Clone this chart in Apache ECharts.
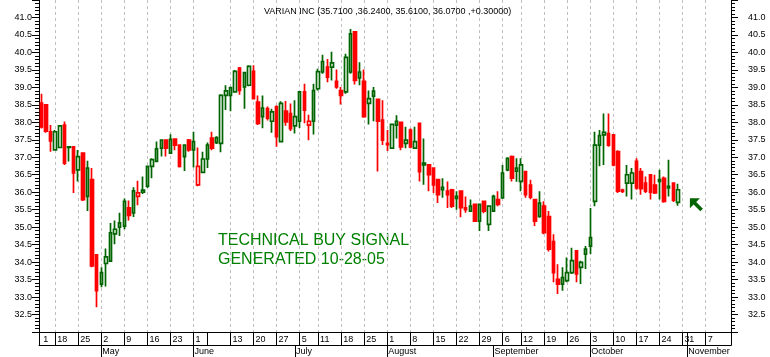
<!DOCTYPE html>
<html><head><meta charset="utf-8">
<script src="https://cdn.jsdelivr.net/npm/echarts@6.0.0/dist/echarts.min.js"></script>
<style>html,body{margin:0;padding:0;background:#fff}#c{width:770px;height:357px}</style>
</head><body><div id="c"></div>
<script>
// Trading days shown on the axis (2005)
const aprDays = [13,14,15,18,19,20,21,22,25,26,27,28,29];
const mayDays = [2,3,4,5,6,9,10,11,12,13,16,17,18,19,20,23,24,25,26,27];
const junDays = [1,2,3,6,7,8,9,10,13,14,15,16,17,20,21,22,23,24,27,28,29,30];
const julDays = [1,5,6,7,8,11,12,13,14,15,18,19,20,21,22,25,26,27,28,29];
const augDays = [1,2,3,4,5,8,9,10,11,12,15,16,17,18,19,22,23,24,25,26,29,30,31];
const sepDays = [1,2,6,7,8,9,12,13,14,15,16,19,20,21,22,23,26,27,28,29,30];
const octDays = [3,4,5,6,7,10,11,12,13,14,17,18,19,20,21,24,25,26,27,28,31];
const novDays = [1,2,3,4,7,8,9,10,11,14];

// OHLC values (Apr 13 .. Oct 28)
const opens = [38.55,38.50,37.73,37.21,37.28,37.92,37.28,37.30,36.64,37.12,
35.88,36.36,34.21,33.37,33.96,34.03,34.81,35.00,35.03,35.55,
35.41,35.88,36.00,36.17,36.74,36.88,37.26,37.49,37.12,37.52,
37.35,37.02,37.49,37.21,36.21,36.57,36.95,37.55,37.42,37.40,
38.77,38.77,38.87,39.55,39.01,39.06,39.46,38.58,38.16,38.39,
38.03,38.44,37.45,38.32,38.25,37.90,38.03,38.87,37.92,38.03,
38.96,39.44,39.58,39.58,39.17,38.91,38.87,39.44,40.59,39.27,
39.17,38.54,38.75,38.66,38.06,37.40,37.26,37.92,38.00,37.40,
37.78,37.26,37.97,36.78,36.78,36.69,36.36,36.07,36.03,36.07,
35.82,36.03,35.55,35.46,35.65,35.17,35.74,35.08,35.46,35.79,
35.84,36.64,37.02,36.60,36.31,36.59,36.20,35.79,35.31,35.60,
35.30,34.59,33.51,33.37,33.47,33.70,34.32,33.85,34.23,34.46,
35.74,37.35,37.64,37.68,37.64,37.16,36.06,36.26,36.26,36.88,
36.59,36.26,36.50,36.20,36.31,36.40,36.12,36.26,35.71];
const closes = [37.87,37.75,37.47,37.73,37.90,36.83,37.30,36.55,37.02,35.79,
36.69,33.89,33.18,33.70,34.15,34.84,34.94,35.12,35.74,35.34,
36.04,35.98,36.06,36.74,36.93,37.24,37.49,37.26,37.51,37.35,
36.74,37.35,37.21,37.45,36.74,36.95,37.35,37.26,37.56,38.77,
38.90,38.99,39.46,38.91,39.42,39.60,38.68,37.97,38.41,38.12,
38.30,37.59,38.54,38.01,37.82,38.16,38.87,38.35,38.03,38.91,
39.45,39.74,39.29,39.70,39.01,38.77,39.86,40.53,39.20,39.44,
38.16,38.68,38.89,38.03,37.49,37.36,37.94,38.03,37.30,37.49,
37.30,37.45,36.59,36.83,36.50,36.21,35.93,36.14,35.93,35.60,
35.88,35.56,35.50,35.60,35.17,35.65,35.46,35.60,35.88,35.65,
36.55,36.97,36.40,36.69,36.78,35.93,35.86,35.17,35.69,34.84,
34.37,33.70,33.37,33.56,33.70,34.04,33.66,33.99,34.37,34.70,
37.35,37.62,37.71,37.35,36.78,36.03,36.02,36.50,36.55,36.12,
36.10,36.03,36.00,35.98,36.36,35.74,36.17,35.77,36.07];
const lows = [37.82,37.70,37.16,37.19,37.27,36.78,36.88,35.98,36.31,35.75,
35.46,33.85,32.71,33.28,33.30,34.00,34.51,34.75,34.94,35.19,
35.29,35.63,35.95,36.12,36.40,36.86,37.02,37.02,37.10,37.20,
36.71,36.61,37.16,36.71,36.17,36.54,36.69,37.20,37.38,37.14,
38.35,38.32,38.85,38.79,38.39,39.03,38.66,37.92,37.83,38.05,
37.70,37.30,37.43,37.90,37.75,37.68,37.84,37.97,37.49,37.65,
38.91,39.39,39.15,39.20,38.96,38.51,38.82,39.39,39.08,39.06,
38.13,37.94,38.03,36.59,37.35,37.18,37.24,37.54,37.20,37.26,
37.26,37.24,36.31,36.21,36.03,35.98,35.69,35.84,35.55,35.55,
35.50,35.28,35.41,35.44,35.15,34.89,35.40,34.89,35.44,35.60,
35.82,36.60,36.31,36.30,36.03,35.84,35.80,35.03,35.27,34.80,
34.30,33.42,33.09,33.18,33.42,33.66,33.42,33.37,33.80,34.23,
35.60,36.74,36.78,37.30,36.74,35.98,35.98,35.88,35.79,36.07,
35.93,35.98,35.79,35.95,35.79,35.70,35.88,35.72,35.61];
const highs = [38.82,38.52,37.92,37.78,37.92,38.02,37.32,37.31,37.21,37.13,
36.90,36.69,34.22,33.85,34.39,35.12,35.19,35.41,35.82,35.76,
36.14,36.33,36.45,36.75,36.97,37.45,37.50,37.51,37.66,37.53,
37.36,37.37,37.52,37.73,37.28,37.16,37.42,37.73,37.60,38.80,
39.06,39.02,39.50,39.58,39.44,39.63,39.63,38.77,38.77,38.45,
38.39,38.49,38.60,38.61,38.54,38.63,38.89,39.10,38.22,39.10,
39.53,39.93,39.81,40.02,39.51,39.01,39.96,40.67,40.60,39.72,
39.51,38.91,39.01,38.68,38.63,37.78,37.95,38.20,38.02,37.87,
37.82,37.87,37.98,37.54,36.80,36.70,36.38,36.40,36.31,36.10,
36.03,36.05,35.88,35.79,35.67,35.67,35.76,35.62,35.93,36.03,
36.78,37.00,37.05,36.97,36.97,36.60,36.36,35.80,36.03,35.74,
35.46,34.80,33.94,33.85,34.13,34.41,34.33,34.04,34.46,35.55,
37.73,37.78,38.25,38.25,37.66,37.20,36.10,36.78,36.69,36.97,
36.69,36.45,36.50,36.50,36.64,36.45,36.93,36.28,36.24];

// Tick labels
const dayLabels = [['Apr 13','1'],['Apr 18','18'],['Apr 25','25'],['May 2','2'],['May 9','9'],['May 16','16'],['May 23','23'],
 ['Jun 1','1'],['Jun 13','13'],['Jun 20','20'],['Jun 27','27'],['Jul 5','5'],['Jul 11','11'],['Jul 18','18'],['Jul 25','25'],
 ['Aug 1','1'],['Aug 8','8'],['Aug 15','15'],['Aug 22','22'],['Aug 29','29'],['Sep 6','6'],['Sep 12','12'],['Sep 19','19'],
 ['Sep 26','26'],['Oct 3','3'],['Oct 10','10'],['Oct 17','17'],['Oct 24','24'],['Oct 31','3'],['Nov 1','1'],['Nov 7','7']];
const daySeparators = ['Apr 18','Apr 25','May 2','May 9','May 16','May 23','Jun 1','Jun 6','Jun 13','Jun 20','Jun 27','Jul 5',
 'Jul 11','Jul 18','Jul 25','Aug 1','Aug 8','Aug 15','Aug 22','Aug 29','Sep 6','Sep 12','Sep 19','Sep 26','Oct 3','Oct 10',
 'Oct 17','Oct 24','Oct 31','Nov 1','Nov 7'];
const gridDates = ['Apr 18','Apr 25','May 2','May 9','May 16','May 23','Jun 1','Jun 13','Jun 20','Jun 27','Jul 5','Jul 11',
 'Jul 18','Jul 25','Aug 1','Aug 8','Aug 15','Aug 22','Aug 29','Sep 6','Sep 12','Sep 19','Sep 26','Oct 3','Oct 10','Oct 17',
 'Oct 24','Oct 31','Nov 7'];
const monthLabels = [['May 2','May'],['Jun 1','June'],['Jul 1','July'],['Aug 1','August'],['Sep 1','September'],
 ['Oct 3','October'],['Nov 1','November']];
const titleText = 'VARIAN INC (35.7100 ,36.2400, 35.6100, 36.0700 ,+0.30000)';

const categories = [].concat(
  aprDays.map(d => 'Apr ' + d), mayDays.map(d => 'May ' + d), junDays.map(d => 'Jun ' + d),
  julDays.map(d => 'Jul ' + d), augDays.map(d => 'Aug ' + d), sepDays.map(d => 'Sep ' + d),
  octDays.map(d => 'Oct ' + d), novDays.map(d => 'Nov ' + d));
const idx = name => categories.indexOf(name);
const dayMap = new Map(dayLabels.map(p => [idx(p[0]), p[1]]));
const sepSet = new Set(daySeparators.map(idx));
const gridSet = new Set(gridDates.map(idx));
const monthMap = new Map(monthLabels.map(p => [idx(p[0]), p[1]]));

const GREEN = '#006400', RED = '#ff0000';
const items = opens.map((o, i) => {
  const c = closes[i];
  const prev = i > 0 ? closes[i - 1] : o;
  const stroke = c >= prev ? GREEN : RED;
  const fill = c > o ? '#ffffff' : stroke;
  return { value: [o, c, lows[i], highs[i]],
    itemStyle: { color: fill, color0: fill, borderColor: stroke, borderColor0: stroke, borderColorDoji: stroke } };
});

const FONT = '"Liberation Sans", Arial, sans-serif';
const yLabel = v => (v >= 32.49 && v <= 41.01) ? v.toFixed(1) : '';
function yAxisCfg(pos, margin) {
  return { type: 'value', position: pos, min: 32, max: 41.5, interval: 0.5,
    axisLine: { show: true, lineStyle: { color: '#000', width: 1 } },
    axisTick: { show: true, length: 7, lineStyle: { color: '#000' } },
    minorTick: { show: true, splitNumber: 5, length: 4, lineStyle: { color: '#000' } },
    splitLine: { show: false }, minorSplitLine: { show: false },
    axisLabel: { fontSize: 9, color: '#000', fontFamily: FONT, margin: margin, formatter: yLabel } };
}

const chart = echarts.init(document.getElementById('c'), null, { renderer: 'canvas' });
chart.setOption({
  animation: false,
  backgroundColor: '#fff',
  title: { text: titleText, left: 259, top: 2,
    textStyle: { fontSize: 9, fontWeight: 'normal', color: '#000', fontFamily: FONT } },
  grid: { left: 39, right: 39, top: -3, bottom: 25, containLabel: false },
  xAxis: [
    { type: 'category', data: categories, boundaryGap: true, position: 'bottom',
      axisLine: { show: true, lineStyle: { color: '#000' } },
      axisTick: { show: true, alignWithLabel: true, length: 13, interval: i => sepSet.has(i), lineStyle: { color: '#000' } },
      axisLabel: { show: true, interval: i => dayMap.has(i), formatter: (v, i) => dayMap.get(i) || '',
        align: 'left', margin: 3, padding: [0, 0, 0, 2], fontSize: 9, color: '#000', fontFamily: FONT },
      splitLine: { show: true, alignWithLabel: true, interval: i => gridSet.has(i),
        lineStyle: { color: '#c0c0c0', width: 1, type: [3, 3] } } },
    { type: 'category', data: categories, boundaryGap: true, position: 'bottom', offset: 13,
      axisLine: { show: true, lineStyle: { color: '#000' } },
      axisTick: { show: true, alignWithLabel: true, length: 12, interval: i => monthMap.has(i), lineStyle: { color: '#000' } },
      axisLabel: { show: true, interval: i => monthMap.has(i), formatter: (v, i) => monthMap.get(i) || '',
        align: 'left', margin: 2, padding: [0, 0, 0, 1], fontSize: 9, color: '#000', fontFamily: FONT },
      splitLine: { show: false } }
  ],
  yAxis: [yAxisCfg('left', 7), yAxisCfg('right', 17)],
  series: [{
    type: 'candlestick', name: 'VARIAN INC', xAxisIndex: 0, yAxisIndex: 0, barWidth: 3,
    itemStyle: { borderWidth: 1.7 }, emphasis: { disabled: true }, silent: true,
    data: items,
    markPoint: { silent: true, symbol: 'path://M0,0 L10,0 L6.3,3.7 L13,10.4 L10.4,13 L3.7,6.3 L0,10 Z',
      symbolSize: 13, symbolKeepAspect: true, label: { show: false }, itemStyle: { color: GREEN },
      data: [{ coord: ['Nov 3', 35.64] }] }
  }],
  graphic: [
    { type: 'text', silent: true, style: { x: 218, y: 241, text: 'TECHNICAL BUY SIGNAL', verticalAlign: 'middle',
      font: '16px ' + FONT, fill: '#008000' } },
    { type: 'text', silent: true, style: { x: 218, y: 259.5, text: 'GENERATED 10-28-05', verticalAlign: 'middle',
      font: '16px ' + FONT, fill: '#008000' } },
    { type: 'line', silent: true, shape: { x1: 39.5, y1: 332, x2: 39.5, y2: 345.5 }, style: { stroke: '#000', lineWidth: 1 } },
    { type: 'line', silent: true, shape: { x1: 731.5, y1: 332, x2: 731.5, y2: 345.5 }, style: { stroke: '#000', lineWidth: 1 } }
  ]
});
</script></body></html>
